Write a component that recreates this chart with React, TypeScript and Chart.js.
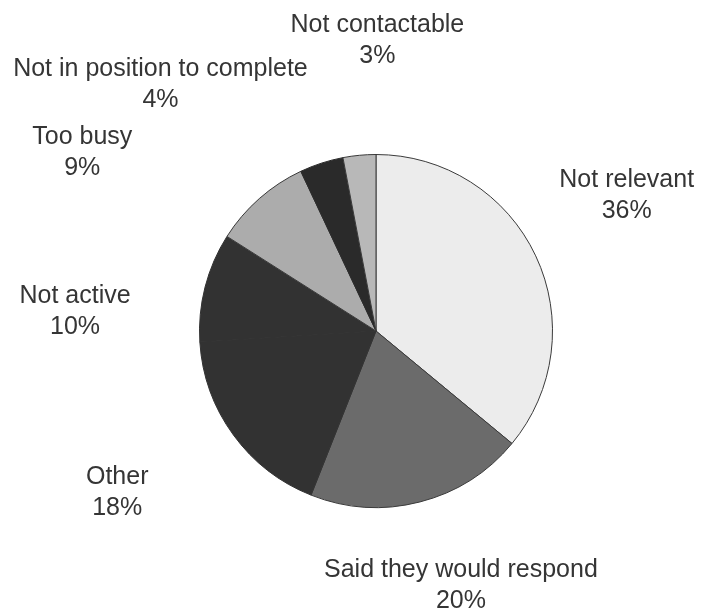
import React, { useEffect, useRef } from "react";
import { Chart, registerables } from "chart.js";

Chart.register(...registerables);

const categories = [
  "Not relevant",
  "Said they would respond",
  "Other",
  "Not active",
  "Too busy",
  "Not in position to complete",
  "Not contactable",
];
const values = [36, 20, 18, 10, 9, 4, 3];
const sliceColors = ["#ececec", "#6b6b6b", "#323232", "#323232", "#acacac", "#2a2a2a", "#b8b8b8"];
const sliceBorders = ["#3a3a3a", "#3a3a3a", "#323232", "#323232", "#3a3a3a", "#2a2a2a", "#3a3a3a"];
// label offsets (px) from the outer edge point at each slice's mid-angle
const labelOffsets: [number, number][] = [
  [91, -60],
  [41, 84],
  [-116, 58],
  [-130, 25],
  [-177, -46],
  [-161, -79],
  [18, -115],
];

const labelPlugin = {
  id: "outerLabels",
  afterDatasetsDraw(chart: any) {
    const ctx = chart.ctx;
    const meta = chart.getDatasetMeta(0);
    ctx.save();
    ctx.font = '25px "Liberation Sans", Arial, sans-serif';
    ctx.fillStyle = "#353535";
    ctx.textAlign = "center";
    ctx.textBaseline = "middle";
    meta.data.forEach((arc: any, i: number) => {
      const { x, y, startAngle, endAngle, outerRadius } = arc.getProps(
        ["x", "y", "startAngle", "endAngle", "outerRadius"],
        true
      );
      const mid = (startAngle + endAngle) / 2;
      const ex = x + Math.cos(mid) * outerRadius;
      const ey = y + Math.sin(mid) * outerRadius;
      const cx = ex + labelOffsets[i][0];
      const cy = ey + labelOffsets[i][1];
      ctx.fillText(categories[i], cx, cy - 15.5);
      ctx.fillText(values[i] + "%", cx, cy + 15.5);
    });
    ctx.restore();
  },
};

export default function App() {
  const ref = useRef<HTMLCanvasElement>(null);
  useEffect(() => {
    document.body.style.margin = "0";
    const chart = new Chart(ref.current!, {
      type: "pie",
      data: {
        labels: categories,
        datasets: [
          {
            data: values,
            backgroundColor: sliceColors,
            borderColor: sliceBorders,
            borderWidth: 1,
          },
        ],
      },
      options: {
        responsive: false,
        animation: false,
        layout: { padding: { left: 199, right: 148, top: 154, bottom: 101 } },
        plugins: {
          legend: { display: false },
          tooltip: { enabled: false },
        },
      },
      plugins: [labelPlugin],
    });
    return () => chart.destroy();
  }, []);
  return (
    <div style={{ width: 701, height: 609, background: "#fff" }}>
      <canvas ref={ref} width={701} height={609} />
    </div>
  );
}
